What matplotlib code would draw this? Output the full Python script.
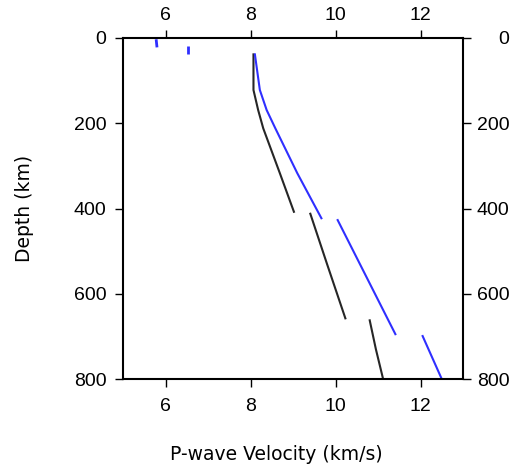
import matplotlib
matplotlib.use("Agg")
import matplotlib.pyplot as plt

# black model: velocity (km/s) and depth (km) per segment
black_v = [[8.07, 8.07, 8.18, 8.30, 8.69, 9.03],
           [9.40, 9.80, 10.24],
           [10.80, 10.95, 11.12]]
black_d = [[36, 122, 169, 212, 317, 410],
           [410, 530, 660],
           [660, 730, 800]]

# blue model
blue_v = [[5.78, 5.80],
          [6.54, 6.54],
          [8.10, 8.22, 8.38, 8.58, 9.10, 9.68],
          [10.04, 11.42],
          [12.04, 12.50]]
blue_d = [[3, 22],
          [19, 37],
          [36, 122, 169, 211, 317, 425],
          [425, 697],
          [697, 800]]

x_ticks = [6, 8, 10, 12]
y_ticks = [0, 200, 400, 600, 800]

black_col = '#262626'
blue_col = '#2f2fff'

fig = plt.figure(figsize=(5.11, 4.75), dpi=100)
ax = fig.add_axes([123 / 511, 1 - 379 / 475, 340 / 511, 341 / 475])

for v, d in zip(black_v, black_d):
    ax.plot(v, d, color=black_col, lw=1.5, solid_capstyle='butt')
for i, (v, d) in enumerate(zip(blue_v, blue_d)):
    # the crust bits look a little heavier
    ax.plot(v, d, color=blue_col, lw=2.0 if i < 2 else 1.5,
            solid_capstyle='butt')

ax.set_xlim(5, 13)
ax.set_ylim(800, 0)
ax.set_xticks(x_ticks)
ax.set_yticks(y_ticks)
tick_font = dict(family='Liberation Sans', size=14)
ax.set_xticklabels([str(t) for t in x_ticks], **tick_font)
ax.set_yticklabels([str(t) for t in y_ticks], **tick_font)
ax.tick_params(axis='x', direction='out', length=5.8, width=1.0, pad=8)
ax.tick_params(axis='y', direction='out', length=5.8, width=1.0, pad=6)
for s in ax.spines.values():
    s.set_linewidth(1.5)

# top labels
ax3 = ax.twiny()
ax3.set_xlim(5, 13)
ax3.set_xticks(x_ticks)
ax3.set_xticklabels([str(t) for t in x_ticks], **tick_font)
ax3.tick_params(axis='x', direction='out', length=5.8, width=1.0, pad=4)
for s in ax3.spines.values():
    s.set_visible(False)

# right side labels, right aligned near the figure edge
ax2 = ax.twinx()
ax2.set_ylim(800, 0)
ax2.set_yticks(y_ticks)
ax2.set_yticklabels([str(t) for t in y_ticks], **tick_font)
ax2.tick_params(axis='y', direction='out', length=5.8, width=1.0, pad=27.5)
for t in ax2.get_yticklabels():
    t.set_horizontalalignment('right')
for s in ax2.spines.values():
    s.set_visible(False)

fig.text(276 / 511, 1 - 455 / 475, 'P-wave Velocity (km/s)',
         ha='center', va='center', fontsize=13.5, family='DejaVu Sans')
fig.text(25 / 511, 1 - 208 / 475, 'Depth (km)', rotation=90,
         ha='center', va='center', fontsize=13.5, family='DejaVu Sans')

fig.savefig('out.png', dpi=100)
